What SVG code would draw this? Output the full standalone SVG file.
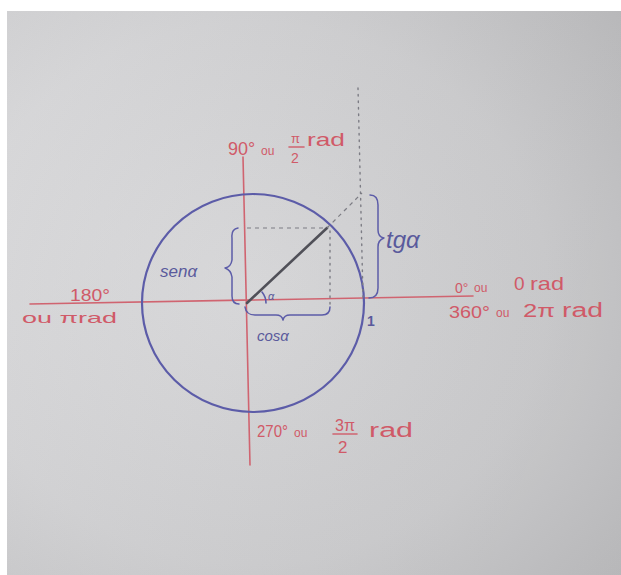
<svg xmlns="http://www.w3.org/2000/svg" width="621" height="575" viewBox="0 0 621 575">
<defs>
<radialGradient id="paper" cx="0.4" cy="0.5" r="0.8">
<stop offset="0" stop-color="#dedee0"/>
<stop offset="0.6" stop-color="#d4d4d6"/>
<stop offset="1" stop-color="#c2c2c4"/>
</radialGradient>
<linearGradient id="shade" x1="0" y1="0" x2="1" y2="0.3">
<stop offset="0" stop-color="#ffffff" stop-opacity="0.1"/>
<stop offset="1" stop-color="#000000" stop-opacity="0.06"/>
</linearGradient>
<style>
.red{fill:none;stroke:#d06470;stroke-width:1.6;stroke-linecap:round}
.rt{fill:#d05a68;font-family:"Liberation Sans",Arial,sans-serif}
.blue{fill:none;stroke:#5c5ca8;stroke-linecap:round;stroke-linejoin:round}
.bt{fill:#5a5a9c;font-family:"Liberation Sans",Arial,sans-serif}
.dash{fill:none;stroke:#7c7c84;stroke-width:1.2;stroke-dasharray:4 4}
.dot{fill:none;stroke:#7c7c84;stroke-width:1.4;stroke-dasharray:1.5 5;stroke-linecap:round}
</style>
</defs>
<rect x="0" y="0" width="621" height="575" fill="#ffffff"/>
<rect x="7" y="11" width="614" height="564" fill="url(#paper)"/>
<rect x="7" y="11" width="614" height="564" fill="url(#shade)"/>

<g id="axes">
<line class="red" x1="30" y1="304" x2="473" y2="296"/>
<line class="red" x1="243" y1="157" x2="250" y2="465"/>
</g>

<g id="circle">
<ellipse class="blue" cx="253" cy="303" rx="111" ry="109" stroke-width="2.2"/>
</g>

<g id="connectors">
<line x1="247" y1="303" x2="327" y2="228" stroke="#505058" stroke-width="2.6" stroke-linecap="round"/>
<line class="dash" x1="247" y1="228" x2="325" y2="228"/>
<line class="dot" x1="330" y1="231" x2="330" y2="308"/>
<line class="dash" x1="327" y1="228" x2="362" y2="193"/>
<line class="dot" x1="358" y1="88" x2="363" y2="297"/>
</g>

<g id="angle">
<path class="blue" d="M262,292 Q266,297 266,303" stroke-width="1.6"/>
<text class="bt" x="268" y="300" font-size="11" font-style="italic">α</text>
</g>

<g id="sen">
<path class="blue" stroke-width="1.5" d="M238,228 Q231,229 232,238 L232,260 Q231,267 225,268 Q231,270 232,277 L232,296 Q232,304 239,304"/>
<text class="bt" x="160" y="277" font-size="17" font-style="italic">senα</text>
</g>

<g id="cos">
<path class="blue" stroke-width="1.5" d="M245,307 Q246,315 255,315 L276,315 Q282,315 283,320 Q284,315 290,315 L322,315 Q330,315 330,307"/>
<text class="bt" x="257" y="341" font-size="15" font-style="italic">cosα</text>
</g>

<g id="tg">
<path class="blue" stroke-width="1.5" d="M370,195 Q378,195 378,205 L378,230 Q378,237 384,238 Q378,240 378,247 L378,288 Q378,298 369,298"/>
<text class="bt" x="386" y="248" font-size="24" font-style="italic">tgα</text>
</g>

<g id="one">
<text class="bt" x="367" y="326" font-size="14" font-weight="bold" fill="#44446a">1</text>
</g>

<g id="label90">
<text class="rt" x="228" y="155" font-size="18">90°</text>
<text class="rt" x="261" y="155" font-size="12">ou</text>
<text class="rt" x="291" y="143" font-size="13">π</text>
<line class="red" x1="289" y1="147" x2="304" y2="147" stroke-width="1.3"/>
<text class="rt" x="291" y="163" font-size="14">2</text>
<text class="rt" x="307" y="146" font-size="19" textLength="38" lengthAdjust="spacingAndGlyphs">rad</text>
</g>

<g id="label180">
<text class="rt" x="70" y="301" font-size="17" textLength="40" lengthAdjust="spacingAndGlyphs">180°</text>
<text class="rt" x="22" y="323" font-size="15" textLength="95" lengthAdjust="spacingAndGlyphs">ou πrad</text>
</g>

<g id="label0">
<text class="rt" x="455" y="293" font-size="14">0°</text>
<text class="rt" x="474" y="292" font-size="12">ou</text>
<text class="rt" x="514" y="290" font-size="19">0</text>
<text class="rt" x="530" y="290" font-size="19" textLength="34" lengthAdjust="spacingAndGlyphs">rad</text>
<text class="rt" x="449" y="318" font-size="17" textLength="41" lengthAdjust="spacingAndGlyphs">360°</text>
<text class="rt" x="496" y="317" font-size="12">ou</text>
<text class="rt" x="523" y="317" font-size="18" textLength="32" lengthAdjust="spacingAndGlyphs">2π</text>
<text class="rt" x="562" y="317" font-size="20" textLength="41" lengthAdjust="spacingAndGlyphs">rad</text>
</g>

<g id="label270">
<text class="rt" x="257" y="437" font-size="17" textLength="31" lengthAdjust="spacingAndGlyphs">270°</text>
<text class="rt" x="294" y="437" font-size="12">ou</text>
<text class="rt" x="335" y="431" font-size="16">3π</text>
<line class="red" x1="333" y1="434" x2="357" y2="434" stroke-width="1.3"/>
<text class="rt" x="338" y="453" font-size="17">2</text>
<text class="rt" x="369" y="437" font-size="20" textLength="44" lengthAdjust="spacingAndGlyphs">rad</text>
</g>
</svg>
